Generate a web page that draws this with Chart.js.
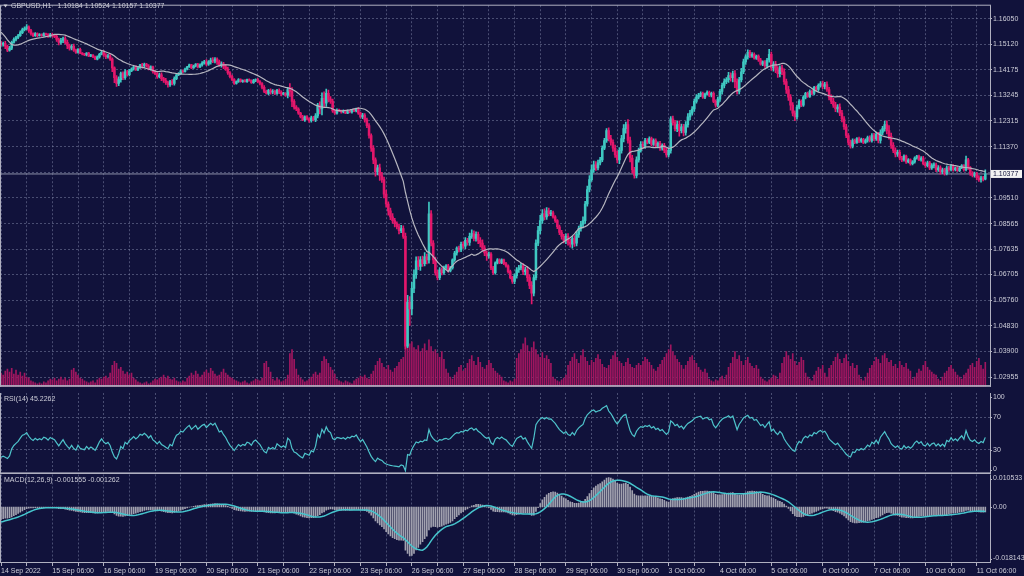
<!DOCTYPE html>
<html>
<head>
<meta charset="utf-8">
<script src="https://cdn.jsdelivr.net/npm/chart.js@4.4.0/dist/chart.umd.min.js"></script>
<style>
  html, body { margin: 0; padding: 0; background: #11123b; }
  #wrap { position: relative; width: 1024px; height: 576px; overflow: hidden; background: #11123b; }
  #wrap canvas { position: absolute; left: 0; }
</style>
</head>
<body>
<div id="wrap">
  <canvas id="price" width="1024" height="392" style="top:0px"></canvas>
  <canvas id="rsi" width="1024" height="82" style="top:392px"></canvas>
  <canvas id="macd" width="1024" height="102" style="top:474px"></canvas>
</div>
<script>
// GBPUSD H1, 14 Sep 2022 06:00 - 11 Oct 2022 10:00
const symbol = 'GBPUSD,H1';
const year = '2022';
const tradingDays = ['14 Sep', '15 Sep', '16 Sep', '19 Sep', '20 Sep', '21 Sep', '22 Sep', '23 Sep',
  '26 Sep', '27 Sep', '28 Sep', '29 Sep', '30 Sep', '3 Oct', '4 Oct', '5 Oct', '6 Oct', '7 Oct', '10 Oct', '11 Oct'];
const firstHour = 6;
const lastHour = 10;

// bars before the visible window (13 Sep 10:00 - 14 Sep 05:00), only used by the indicators
const warmupCloses = [1.1690, 1.1698, 1.1705, 1.1692, 1.1686, 1.1580, 1.1535, 1.1520, 1.1502, 1.1495,
  1.1488, 1.1499, 1.1492, 1.1497, 1.1505, 1.1512, 1.1508, 1.1516, 1.1521, 1.1515];

const closes = [
  // 14 Sep
  1.1511, 1.1514, 1.1504, 1.1490, 1.1497, 1.1518, 1.1529, 1.1536, 1.1543, 1.1554, 1.1565, 1.1568, 1.1575, 1.1561, 1.1550, 1.1543, 1.1550, 1.1543,
  // 15 Sep
  1.1547, 1.1543, 1.1550, 1.1547, 1.1540, 1.1547, 1.1543, 1.1540, 1.1529, 1.1518, 1.1525, 1.1532, 1.1518, 1.1507, 1.1497, 1.1504, 1.1490, 1.1482, 1.1493, 1.1479, 1.1475, 1.1472, 1.1479, 1.1468,
  // 16 Sep
  1.1472, 1.1465, 1.1457, 1.1465, 1.1475, 1.1482, 1.1472, 1.1465, 1.1468, 1.1457, 1.1425, 1.1389, 1.1368, 1.1382, 1.1404, 1.1389, 1.1411, 1.1400, 1.1414, 1.1421, 1.1429, 1.1418, 1.1425, 1.1436,
  // 19 Sep
  1.1432, 1.1439, 1.1432, 1.1421, 1.1429, 1.1411, 1.1404, 1.1393, 1.1400, 1.1386, 1.1379, 1.1371, 1.1364, 1.1375, 1.1368, 1.1386, 1.1400, 1.1404, 1.1414, 1.1411, 1.1421, 1.1429, 1.1436, 1.1425,
  // 20 Sep
  1.1432, 1.1439, 1.1429, 1.1436, 1.1443, 1.1447, 1.1439, 1.1447, 1.1454, 1.1450, 1.1457, 1.1447, 1.1436, 1.1439, 1.1429, 1.1421, 1.1407, 1.1393, 1.1382, 1.1368, 1.1375, 1.1382, 1.1375, 1.1379,
  // 21 Sep
  1.1375, 1.1382, 1.1379, 1.1371, 1.1379, 1.1382, 1.1375, 1.1368, 1.1354, 1.1339, 1.1332, 1.1343, 1.1336, 1.1339, 1.1332, 1.1343, 1.1336, 1.1329, 1.1332, 1.1325, 1.1346, 1.1339, 1.1303, 1.1282,
  // 22 Sep
  1.1275, 1.1260, 1.1246, 1.1235, 1.1246, 1.1239, 1.1232, 1.1243, 1.1235, 1.1250, 1.1289, 1.1275, 1.1314, 1.1296, 1.1332, 1.1311, 1.1303, 1.1268, 1.1260, 1.1271, 1.1268, 1.1264, 1.1268, 1.1260,
  // 23 Sep
  1.1268, 1.1264, 1.1271, 1.1268, 1.1275, 1.1260, 1.1246, 1.1253, 1.1235, 1.1214, 1.1178, 1.1132, 1.1089, 1.1046, 1.1060, 1.1032, 1.1017, 1.0964, 1.0928, 1.0903, 1.0881, 1.0867, 1.0856, 1.0845,
  // 26 Sep
  1.0831, 1.0838, 1.0810, 1.0409, 1.0570, 1.0545, 1.0620, 1.0670, 1.0720, 1.0700, 1.0724, 1.0710, 1.0735, 1.0724, 1.0892, 1.0785, 1.0724, 1.0677, 1.0659, 1.0688, 1.0677, 1.0695, 1.0702, 1.0684,
  // 27 Sep
  1.0695, 1.0724, 1.0749, 1.0767, 1.0760, 1.0781, 1.0774, 1.0795, 1.0788, 1.0810, 1.0820, 1.0802, 1.0817, 1.0795, 1.0785, 1.0767, 1.0749, 1.0738, 1.0745, 1.0695, 1.0677, 1.0713, 1.0724, 1.0713,
  // 28 Sep
  1.0724, 1.0710, 1.0702, 1.0681, 1.0659, 1.0645, 1.0666, 1.0688, 1.0695, 1.0702, 1.0681, 1.0688, 1.0659, 1.0631, 1.0602, 1.0659, 1.0785, 1.0831, 1.0867, 1.0892, 1.0881, 1.0903, 1.0892, 1.0896,
  // 29 Sep
  1.0881, 1.0867, 1.0845, 1.0824, 1.0810, 1.0795, 1.0810, 1.0788, 1.0781, 1.0802, 1.0785, 1.0817, 1.0838, 1.0853, 1.0867, 1.0928, 1.0981, 1.1017, 1.1053, 1.1071, 1.1060, 1.1078, 1.1089, 1.1132,
  // 30 Sep
  1.1160, 1.1196, 1.1167, 1.1153, 1.1132, 1.1107, 1.1089, 1.1124, 1.1167, 1.1203, 1.1218, 1.1160, 1.1096, 1.1053, 1.1032, 1.1089, 1.1124, 1.1146, 1.1139, 1.1160, 1.1153, 1.1167, 1.1146, 1.1160,
  // 3 Oct
  1.1139, 1.1150, 1.1132, 1.1142, 1.1124, 1.1107, 1.1124, 1.1239, 1.1225, 1.1203, 1.1218, 1.1196, 1.1210, 1.1189, 1.1218, 1.1246, 1.1260, 1.1275, 1.1303, 1.1318, 1.1325, 1.1332, 1.1318, 1.1329,
  // 4 Oct
  1.1336, 1.1325, 1.1332, 1.1303, 1.1289, 1.1311, 1.1339, 1.1361, 1.1375, 1.1382, 1.1397, 1.1389, 1.1404, 1.1375, 1.1339, 1.1382, 1.1411, 1.1447, 1.1465, 1.1482, 1.1468, 1.1475, 1.1461, 1.1468,
  // 5 Oct
  1.1454, 1.1439, 1.1447, 1.1432, 1.1454, 1.1475, 1.1425, 1.1439, 1.1418, 1.1404, 1.1425, 1.1411, 1.1375, 1.1346, 1.1318, 1.1289, 1.1260, 1.1246, 1.1282, 1.1303, 1.1289, 1.1318, 1.1332, 1.1321,
  // 6 Oct
  1.1339, 1.1332, 1.1354, 1.1346, 1.1361, 1.1368, 1.1357, 1.1364, 1.1346, 1.1318, 1.1303, 1.1289, 1.1275, 1.1282, 1.1260, 1.1239, 1.1210, 1.1178, 1.1153, 1.1139, 1.1160, 1.1153, 1.1167, 1.1157,
  // 7 Oct
  1.1164, 1.1153, 1.1160, 1.1171, 1.1160, 1.1178, 1.1167, 1.1182, 1.1160, 1.1189, 1.1203, 1.1218, 1.1196, 1.1175, 1.1142, 1.1124, 1.1110, 1.1117, 1.1096, 1.1089, 1.1103, 1.1082, 1.1089, 1.1075,
  // 10 Oct
  1.1082, 1.1096, 1.1103, 1.1089, 1.1096, 1.1075, 1.1068, 1.1078, 1.1060, 1.1068, 1.1071, 1.1053, 1.1060, 1.1046, 1.1053, 1.1039, 1.1060, 1.1053, 1.1068, 1.1053, 1.1060, 1.1050, 1.1060, 1.1068,
  // 11 Oct
  1.1053, 1.1089, 1.1060, 1.1039, 1.1032, 1.1039, 1.1024, 1.1017, 1.1024, 1.10184, 1.10377
];

// wick lengths in pips above / below the candle body
const wickUp = [
  6, 5, 8, 4, 7, 5, 6, 4, 5, 6, 5, 7, 8, 4, 5, 3, 4, 3,
  3, 2, 3, 2, 3, 4, 5, 4, 6, 5, 8, 6, 7, 9, 5, 6, 8, 4, 3, 4, 2, 3, 2, 3,
  3, 2, 3, 4, 3, 5, 6, 5, 7, 6, 5, 4, 8, 10, 6, 7, 8, 5, 6, 4, 3, 4, 3, 2,
  6, 4, 3, 5, 4, 3, 5, 4, 6, 7, 5, 8, 6, 5, 7, 6, 5, 4, 3, 4, 3, 2, 3, 2,
  3, 2, 3, 4, 5, 6, 8, 5, 7, 9, 6, 5, 7, 8, 6, 9, 7, 5, 6, 4, 3, 4, 3, 2,
  3, 2, 3, 2, 4, 3, 5, 4, 3, 6, 5, 4, 6, 7, 5, 4, 6, 5, 4, 3, 8, 22, 14, 6,
  5, 4, 3, 6, 4, 5, 4, 6, 5, 8, 7, 12, 20, 24, 16, 12, 9, 8, 6, 5, 4, 3, 4, 3,
  3, 2, 3, 4, 3, 5, 4, 6, 5, 7, 8, 6, 9, 8, 10, 14, 12, 9, 15, 8, 10, 12, 9, 7,
  10, 12, 10, 12, 24, 20, 22, 18, 15, 16, 12, 14, 16, 10, 43, 12, 9, 10, 9, 8, 7, 6, 5, 6,
  5, 4, 6, 5, 7, 8, 9, 10, 8, 12, 14, 10, 9, 8, 10, 12, 9, 8, 7, 6, 5, 4, 5, 4,
  4, 3, 5, 4, 6, 5, 7, 8, 9, 10, 8, 9, 12, 10, 14, 10, 12, 15, 20, 16, 18, 12, 10, 9,
  6, 5, 4, 6, 8, 7, 9, 10, 12, 8, 11, 10, 9, 12, 14, 10, 12, 15, 18, 14, 12, 10, 9, 8,
  8, 7, 10, 12, 9, 11, 14, 10, 12, 15, 9, 18, 12, 10, 9, 11, 8, 10, 9, 8, 7, 6, 5, 6,
  6, 5, 7, 6, 8, 7, 9, 8, 10, 9, 12, 14, 10, 9, 11, 12, 10, 9, 8, 10, 7, 6, 5, 4,
  5, 4, 5, 6, 5, 7, 8, 9, 10, 8, 12, 10, 9, 11, 10, 9, 12, 10, 8, 9, 7, 6, 5, 4,
  5, 6, 4, 5, 6, 18, 8, 9, 10, 12, 8, 10, 11, 9, 12, 10, 9, 8, 7, 6, 5, 6, 4, 5,
  6, 5, 4, 5, 6, 7, 9, 8, 10, 8, 9, 11, 10, 9, 12, 10, 8, 9, 7, 8, 6, 5, 4, 5,
  5, 4, 6, 5, 6, 7, 8, 9, 8, 10, 9, 12, 14, 18, 12, 10, 9, 8, 7, 6, 5, 4, 5, 4,
  5, 4, 3, 4, 5, 6, 5, 7, 6, 8, 7, 6, 8, 7, 6, 5, 7, 6, 5, 4, 3, 4, 3, 4,
  4, 14, 6, 5, 7, 6, 5, 8, 6, 5, 14.7
];
const wickDown = [
  5, 7, 9, 6, 4, 5, 3, 5, 4, 3, 4, 5, 3, 6, 5, 4, 3, 4,
  2, 3, 2, 3, 4, 3, 6, 5, 7, 9, 6, 8, 5, 12, 7, 6, 5, 4, 3, 2, 3, 2, 3, 2,
  2, 3, 2, 3, 4, 3, 5, 6, 4, 5, 14, 18, 11, 8, 9, 7, 6, 5, 4, 3, 4, 2, 3, 2,
  8, 5, 4, 3, 4, 5, 4, 6, 5, 8, 7, 6, 9, 7, 5, 6, 4, 3, 4, 3, 2, 3, 2, 3,
  2, 3, 4, 3, 5, 4, 6, 5, 8, 6, 7, 9, 6, 8, 7, 5, 6, 5, 4, 3, 2, 3, 2, 3,
  2, 3, 2, 3, 3, 4, 4, 5, 6, 4, 3, 5, 7, 6, 5, 4, 5, 6, 3, 4, 10, 18, 20, 8,
  6, 5, 4, 3, 5, 4, 6, 5, 4, 6, 8, 18, 22, 14, 12, 10, 8, 6, 5, 4, 3, 4, 3, 2,
  2, 3, 4, 3, 4, 5, 4, 6, 8, 7, 10, 12, 14, 16, 12, 18, 10, 14, 12, 16, 10, 9, 12, 8,
  12, 8, 8, 10, 6, 60, 22, 16, 14, 12, 15, 10, 8, 15, 12, 10, 14, 9, 8, 7, 8, 6, 7, 5,
  4, 5, 6, 8, 7, 6, 8, 9, 10, 11, 8, 9, 10, 12, 14, 9, 10, 16, 8, 7, 6, 5, 4, 3,
  3, 4, 5, 6, 5, 7, 8, 9, 10, 8, 11, 12, 14, 12, 39, 10, 8, 9, 12, 10, 11, 9, 8, 7,
  5, 6, 7, 8, 10, 9, 12, 10, 11, 14, 12, 10, 11, 9, 12, 10, 8, 9, 7, 10, 9, 8, 7, 6,
  6, 7, 9, 10, 12, 9, 11, 14, 10, 12, 16, 10, 14, 12, 10, 9, 8, 7, 9, 8, 6, 5, 6, 4,
  5, 6, 8, 7, 9, 8, 7, 10, 9, 8, 11, 20, 8, 12, 10, 9, 11, 8, 9, 7, 6, 5, 4, 5,
  4, 5, 6, 5, 7, 6, 8, 10, 9, 8, 10, 12, 15, 22, 10, 9, 8, 7, 9, 8, 6, 5, 4, 5,
  5, 4, 6, 5, 7, 8, 9, 12, 10, 14, 12, 11, 10, 14, 12, 18, 10, 14, 8, 7, 6, 5, 6, 4,
  4, 5, 6, 5, 7, 6, 8, 9, 7, 10, 9, 8, 10, 12, 9, 11, 10, 8, 9, 7, 6, 5, 4, 5,
  4, 5, 4, 6, 5, 6, 8, 7, 9, 10, 8, 9, 12, 10, 11, 9, 10, 8, 7, 6, 5, 6, 4, 5,
  4, 5, 4, 3, 5, 4, 6, 5, 7, 6, 8, 7, 6, 9, 7, 6, 5, 6, 4, 5, 4, 3, 4, 3,
  5, 4, 6, 7, 5, 6, 8, 7, 9, 6, 2.7
];

// tick volume, hundreds of ticks
const volumes = [
  14, 12, 16, 18, 15, 19, 13, 17, 12, 15, 11, 14, 10, 9,
  6, 5, 4, 3, 4, 3, 5, 4, 6, 8, 7, 9, 6, 8, 10, 7, 9, 6, 8,
  17, 19, 15, 12, 9,
  8, 6, 5, 4, 5, 6, 4, 7, 9, 8, 10, 11, 9,
  14, 22, 26, 24, 18, 20, 16, 13, 15, 12, 14,
  9, 7, 5, 4, 3, 4, 5, 3, 4, 6, 8, 7, 9, 10, 12, 9, 11, 8, 7, 9, 6, 5, 4, 6, 5,
  9, 11, 14, 12, 16, 13, 10, 12, 15, 17, 14, 19, 16, 13, 11, 12, 15, 18, 14, 12, 10, 9,
  7, 6, 5, 4, 5, 6, 4, 3, 5, 6, 8, 7, 6, 9,
  24, 26, 20, 15,
  8, 6, 9, 7, 5, 6, 8, 12,
  34, 38, 28, 18,
  12, 9, 7, 5, 6, 8, 10, 13, 15, 12, 14,
  26, 31, 28, 24, 20, 17, 13,
  8, 6, 5, 4, 6, 5, 4, 3, 6, 8, 9, 11, 10, 12, 9, 8, 13,
  16, 22, 26, 29, 24, 20, 18, 22, 17, 15, 19, 21, 25, 28, 30,
  53, 48, 44, 46, 40, 38, 42, 36, 39, 44, 37, 48, 41, 36, 38, 34, 30, 36, 28,
  18, 14, 10, 8, 12, 15, 20, 22, 16,
  19, 24, 28, 32, 26, 22, 30, 25, 20, 18, 22, 27, 24, 19, 16, 14, 12, 10,
  6, 5, 4, 6, 5, 8,
  29, 34, 38, 44, 50, 42, 36, 40, 46, 38, 33, 30, 35, 29, 32, 28, 24,
  10, 8, 6, 5, 7, 9, 12,
  22, 26, 30, 34, 28, 24, 32, 38, 30, 26, 22, 27, 25, 29, 33, 28, 23, 20,
  19, 22, 28, 32, 36, 30, 26, 24, 21, 25, 29, 23, 20, 19, 22,
  24, 22, 26, 30, 28, 25, 22, 18, 16, 20, 23, 27, 30, 34, 38, 43, 36, 32, 28, 25, 22,
  18, 22, 26, 30, 32, 27, 24, 20, 17, 15, 18, 14,
  8, 6, 5, 7, 6, 9, 11, 8, 12,
  20, 24, 30, 36, 28, 32, 26, 22, 27, 30, 24, 21, 19, 22, 18,
  10, 8, 6, 5, 7, 9, 12, 11, 8, 14,
  24, 30, 36, 32, 28, 34, 26, 22, 25, 30, 27,
  14, 10, 8, 6, 12, 16, 20, 18, 22, 14, 10, 19,
  22, 26, 30, 34, 28, 24, 29, 33, 26, 21, 24, 19, 22, 12, 8,
  6, 10, 14, 19, 22, 26, 30, 28, 24, 32, 34, 29, 25, 27, 21, 23, 19, 26, 22, 20, 24, 18, 16,
  8, 10, 14, 18, 16, 22, 26, 20, 17, 15, 13, 12,
  8, 6, 10, 14, 16, 20, 22, 18, 15, 12, 10, 8,
  12, 14, 18, 22, 24, 20, 26, 29, 22, 18, 25
];

const priceTicks = [1.16050, 1.15120, 1.14175, 1.13245, 1.12315, 1.11370, 1.10440, 1.09510,
  1.08565, 1.07635, 1.06705, 1.05760, 1.04830, 1.03900, 1.02955];
const rsiTicks = [100, 70, 30, 0];
const rsiLevels = [30, 70];
const macdTicks = [0.010533, 0, -0.018143];
const macdTickLabels = ['0.010533', '0.00', '-0.018143'];
const rsiTitle = 'RSI(14) 45.2262';
const macdTitle = 'MACD(12,26,9) -0.001555 -0.001262';
const maPeriod = 21;

// look
const bg = '#11123b';
const bullColor = '#3fc8c2';
const bearColor = '#e3176b';
const volColor = '#a0165f';
const maColor = '#b7b7c0';
const rsiColor = '#4ec3cb';
const signalColor = '#46c5cd';
const histColor = '#a2a2b0';
const gridColor = 'rgba(130,136,170,0.5)';
const frameColor = '#b0b0c0';
const textColor = '#cdcdd8';
const font = '7px "Liberation Sans", Arial, sans-serif';
const pip = 0.0001;

// hour grid of the bars
const barDay = [];
const barHour = [];
tradingDays.forEach((d, k) => {
  const h0 = k === 0 ? firstHour : 0;
  const h1 = k === tradingDays.length - 1 ? lastHour : 23;
  for (let h = h0; h <= h1; h++) { barDay.push(d); barHour.push(h); }
});

const N = closes.length;
const W = warmupCloses.length;
const all = warmupCloses.concat(closes);
const opens = closes.map((c, i) => i ? closes[i - 1] : warmupCloses[W - 1]);
const highs = closes.map((c, i) => Math.max(opens[i], c) + (wickUp[i] || 0) * pip);
const lows = closes.map((c, i) => Math.min(opens[i], c) - (wickDown[i] || 0) * pip);
const candleColors = closes.map((c, i) => c >= opens[i] ? bullColor : bearColor);
const lastClose = closes[N - 1];

// indicators
function sma(src, n) {
  return src.map((v, i) => {
    let s = 0, k = 0;
    for (let j = Math.max(0, i - n + 1); j <= i; j++) { s += src[j]; k++; }
    return s / k;
  });
}
function ema(src, n) {
  const a = 2 / (n + 1);
  const out = [src[0]];
  for (let i = 1; i < src.length; i++) out.push(out[i - 1] + a * (src[i] - out[i - 1]));
  return out;
}
function rsi(src, n) {
  const out = src.map(() => null);
  let g = 0, l = 0;
  for (let i = 1; i < src.length; i++) {
    const d = src[i] - src[i - 1];
    const up = Math.max(d, 0), dn = Math.max(-d, 0);
    if (i <= n) { g += up / n; l += dn / n; }
    else { g = (g * (n - 1) + up) / n; l = (l * (n - 1) + dn) / n; }
    if (i >= n) out[i] = l === 0 ? 100 : 100 - 100 / (1 + g / l);
  }
  return out;
}
const ma = sma(all, maPeriod).slice(W);
const rsiVals = rsi(all, 14).slice(W);
const e12 = ema(all, 12), e26 = ema(all, 26);
const macdAll = e12.map((v, i) => v - e26[i]);
const macdMain = macdAll.slice(W);
const macdSignal = sma(macdAll, 9).slice(W);

const xMin = -0.47, xMax = 462.2;
const gridBars = [];
for (let i = 0; i < N; i += 12) gridBars.push(i);
const pts = arr => arr.map((v, i) => ({ x: i, y: v }));

function xScale(withLabels) {
  return {
    type: 'linear', min: xMin, max: xMax, offset: false,
    afterBuildTicks: s => { s.ticks = gridBars.map(v => ({ value: v })); },
    afterFit: s => { s.height = withLabels ? 13 : 0; },
    grid: { color: gridColor, lineWidth: 1, offset: false, drawTicks: withLabels, tickLength: 3, tickColor: frameColor },
    border: { display: false, dash: [2, 2] },
    ticks: withLabels ? {
      display: true, autoSkip: false, maxRotation: 0, minRotation: 0, align: 'start', padding: 1,
      color: textColor, font: { family: '"Liberation Sans", Arial, sans-serif', size: 7 },
      callback: v => {
        if (v === 0) return barDay[0] + ' ' + year;
        return barHour[v] === 6 ? barDay[v] + ' 06:00' : '';
      }
    } : { display: false }
  };
}

function frame(extra, sepWidth) {
  return {
    id: 'frame',
    afterDraw(chart) {
      const { ctx, chartArea: a } = chart;
      ctx.save();
      ctx.fillStyle = frameColor;
      ctx.fillRect(0, a.top, 1, a.bottom - a.top);
      ctx.fillRect(a.right, a.top, 1, a.bottom - a.top);
      ctx.fillRect(0, a.bottom - sepWidth, a.right + 1, sepWidth);
      if (extra) extra(chart, ctx, a);
      ctx.restore();
    }
  };
}

function sideLabels(values, texts) {
  return (chart, ctx, a) => {
    const s = chart.scales.y;
    ctx.font = font;
    ctx.textBaseline = 'middle';
    ctx.textAlign = 'left';
    values.forEach((v, k) => {
      let py = s.getPixelForValue(v);
      py = Math.min(Math.max(py, a.top + 4), a.bottom - 4.5);
      ctx.fillStyle = frameColor;
      ctx.fillRect(a.right, Math.round(py), 2, 1);
      ctx.fillStyle = textColor;
      ctx.fillText(texts[k], a.right + 3, py);
    });
  };
}

function title(text) {
  return (chart, ctx, a) => {
    ctx.font = font;
    ctx.textBaseline = 'middle';
    ctx.fillStyle = textColor;
    ctx.fillText(text, 4, a.top + 6);
  };
}

Chart.defaults.animation = false;
Chart.defaults.font.family = '"Liberation Sans", Arial, sans-serif';
const common = {
  responsive: false, animation: false, events: [],
  plugins: { legend: { display: false }, tooltip: { enabled: false } }
};

// price panel with volumes and moving average
new Chart(document.getElementById('price'), {
  type: 'bar',
  data: {
    datasets: [
      { type: 'bar', label: 'Volume', yAxisID: 'vol', data: pts(volumes), backgroundColor: volColor,
        barThickness: 1, grouped: false, order: 5 },
      { type: 'line', label: 'Last', yAxisID: 'y', data: [{ x: xMin - 1, y: lastClose }, { x: xMax + 1, y: lastClose }],
        borderColor: '#8d90a8', borderWidth: 1, pointRadius: 0, order: 4 },
      { type: 'bar', label: 'Wick', yAxisID: 'y', data: closes.map((c, i) => ({ x: i, y: [lows[i], highs[i]] })),
        backgroundColor: candleColors, barThickness: 1, grouped: false, order: 3 },
      { type: 'bar', label: 'Body', yAxisID: 'y', data: closes.map((c, i) => ({ x: i, y: [opens[i], c] })),
        backgroundColor: candleColors, barThickness: 1.9, minBarLength: 1, grouped: false, order: 2 },
      { type: 'line', label: 'MA', yAxisID: 'y', data: pts(ma), borderColor: maColor, borderWidth: 1.2,
        pointRadius: 0, order: 1 }
    ]
  },
  options: Object.assign({}, common, {
    layout: { padding: { top: 2, bottom: 0.5, left: 0, right: 0 } },
    scales: {
      x: xScale(false),
      y: {
        position: 'right', min: 1.02604, max: 1.16540,
        afterBuildTicks: s => { s.ticks = priceTicks.map(v => ({ value: v })); },
        afterFit: s => { s.width = 34; },
        grid: { color: gridColor, drawTicks: true, tickLength: 2, tickColor: frameColor },
        border: { display: false, dash: [2, 2] },
        ticks: {
          autoSkip: false, padding: 1, color: textColor, font: { size: 7 },
          callback: v => Math.abs(v - lastClose) < 0.0012 ? '' : v.toFixed(5)
        }
      },
      vol: { display: false, min: 0, max: 390 }
    }
  }),
  plugins: [frame((chart, ctx, a) => {
    ctx.fillRect(0, a.top - 0.5, a.right + 1, 1);
    // header
    ctx.fillStyle = textColor;
    ctx.beginPath();
    ctx.moveTo(3.5, 4.5); ctx.lineTo(7.5, 4.5); ctx.lineTo(5.5, 7.5); ctx.closePath(); ctx.fill();
    ctx.font = font;
    ctx.textBaseline = 'middle';
    ctx.fillText(symbol, 11, 6.5);
    const ohlc = [opens[N - 1], highs[N - 1], lows[N - 1], lastClose].map(v => v.toFixed(5)).join(' ');
    ctx.fillText(ohlc, 11 + ctx.measureText(symbol).width + 6, 6.5);
    // last price box
    const py = chart.scales.y.getPixelForValue(lastClose);
    ctx.fillStyle = '#f2f2f2';
    ctx.fillRect(a.right + 1, py - 4, 31, 8);
    ctx.fillStyle = bg;
    ctx.fillText(lastClose.toFixed(5), a.right + 3, py + 0.5);
  }, 1.7)]
});

// RSI panel
new Chart(document.getElementById('rsi'), {
  type: 'line',
  data: {
    datasets: [
      { label: 'RSI', data: pts(rsiVals), borderColor: rsiColor, borderWidth: 1.2, pointRadius: 0 }
    ]
  },
  options: Object.assign({}, common, {
    layout: { padding: { top: 1, bottom: 0, left: 0, right: 0 } },
    scales: {
      x: xScale(false),
      y: {
        position: 'right', min: 0, max: 100,
        afterBuildTicks: s => { s.ticks = rsiLevels.map(v => ({ value: v })); },
        afterFit: s => { s.width = 34; },
        grid: { color: gridColor, drawTicks: false },
        border: { display: false, dash: [2, 2] },
        ticks: { display: false }
      }
    }
  }),
  plugins: [frame((chart, ctx, a) => {
    sideLabels(rsiTicks, rsiTicks.map(String))(chart, ctx, a);
    title(rsiTitle)(chart, ctx, a);
  }, 1.6)]
});

// MACD panel
new Chart(document.getElementById('macd'), {
  type: 'bar',
  data: {
    datasets: [
      { type: 'line', label: 'Signal', data: pts(macdSignal), borderColor: signalColor, borderWidth: 1.5,
        pointRadius: 0, order: 1 },
      { type: 'bar', label: 'MACD', data: pts(macdMain), backgroundColor: histColor, barThickness: 1,
        grouped: false, order: 2 }
    ]
  },
  options: Object.assign({}, common, {
    layout: { padding: { top: 0.5, bottom: 0, left: 0, right: 0 } },
    scales: {
      x: xScale(true),
      y: {
        position: 'right', min: -0.018143, max: 0.010533,
        afterFit: s => { s.width = 34; },
        grid: { display: false },
        border: { display: false },
        ticks: { display: false }
      }
    }
  }),
  plugins: [frame((chart, ctx, a) => {
    sideLabels(macdTicks, macdTickLabels)(chart, ctx, a);
    title(macdTitle)(chart, ctx, a);
  }, 1)]
});
</script>
</body>
</html>
